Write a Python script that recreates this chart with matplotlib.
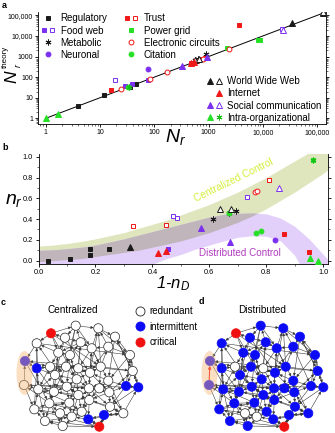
import numpy as np
import matplotlib
matplotlib.use('agg')
import matplotlib.pyplot as plt
from matplotlib.legend_handler import HandlerTuple
from matplotlib.lines import Line2D
from matplotlib.patches import Ellipse, FancyArrowPatch
from matplotlib.ticker import FixedLocator, FixedFormatter, LogLocator, MultipleLocator, NullFormatter

plt.rcParams['font.family'] = ['Liberation Sans', 'DejaVu Sans']
plt.rcParams['mathtext.fontset'] = 'custom'
plt.rcParams['mathtext.rm'] = 'Liberation Sans'
plt.rcParams['mathtext.it'] = 'Liberation Sans:italic'
plt.rcParams['axes.linewidth'] = 0.6


""" ############### data, panel a ############### """

line_a = [1, 140000]
ticks_a = [1, 10, 100, 1000, 10000, 100000]
ticklabels_a = ['1', '10', '100', '1000', '10,000', '100,000']

reg_a_x = [4, 12, 35, 46]
reg_a_y = [4, 13, 33, 48]
foodf_a_x = [29, 38, 75]
foodf_a_y = [38, 44, 72]
foodo_a_x = [19, 22000]
foodo_a_y = [70, 21000]
metab_a_x = [560, 650, 900]
metab_a_y = [700, 800, 1300]
neur_a_x = [78]
neur_a_y = [260]
trustf_a_x = [16, 480, 750, 3600]
trustf_a_y = [24, 490, 800, 35000]
trusto_a_x = [600, 850]
trusto_a_y = [640, 850]
power_a_x = [2200, 8000, 9000]
power_a_y = [2600, 6200, 6200]
elec_a_x = [24, 82, 170, 780, 2400]
elec_a_y = [26, 85, 170, 790, 2400]
cit_a_x = [33]
cit_a_y = [32]
wwwf_a_x = [35000, 125000]
wwwf_a_y = [42000, 135000]
wwwo_a_x = [570, 660, 130000]
wwwo_a_y = [650, 720, 140000]
inet_a_x = [470, 540]
inet_a_y = [470, 520]
socf_a_x = [330, 950]
socf_a_y = [340, 930]
soco_a_x = [23000]
soco_a_y = [20500]
intra_a_x = [1, 1.7]
intra_a_y = [1, 1.7]
intras_a_x = [34]
intras_a_y = [33]

""" ############### data, panel b ############### """

reg_b_x = [0.035, 0.109, 0.18, 0.18, 0.249]
reg_b_y = [0.0, 0.013, 0.112, 0.05, 0.112]
wwwf_b_x = [0.32]
wwwf_b_y = [0.128]
wwwo_b_x = [0.639, 0.676]
wwwo_b_y = [0.494, 0.494]
inet_b_x = [0.42, 0.447]
inet_b_y = [0.077, 0.096]
foodf_b_x = [0.456]
foodf_b_y = [0.112]
foodo_b_x = [0.474, 0.486, 0.732]
foodo_b_y = [0.433, 0.413, 0.609]
trusto_b_x = [0.333, 0.449, 0.808]
trusto_b_y = [0.333, 0.343, 0.776]
trustf_b_x = [0.861, 0.949]
trustf_b_y = [0.253, 0.087]
socf_b_x = [0.571, 0.672]
socf_b_y = [0.317, 0.183]
soco_b_x = [0.844]
soco_b_y = [0.696]
metab_b_x = [0.613, 0.668, 0.694]
metab_b_y = [0.404, 0.462, 0.478]
elec_b_x = [0.761, 0.768]
elec_b_y = [0.663, 0.673]
cit_b_x = [0.668, 0.765, 0.78]
cit_b_y = [0.462, 0.263, 0.288]
neur_b_x = [0.832]
neur_b_y = [0.199]
intra_b_x = [0.953, 0.982]
intra_b_y = [0.029, 0.0]
power_b_x = [0.965]
power_b_y = [0.968]
intras_b_x = [0.965]
intras_b_y = [0.968]

band_x = [0, 0.05, 0.1, 0.15, 0.2, 0.25, 0.3, 0.35, 0.4, 0.45, 0.5,
          0.55, 0.6, 0.65, 0.7, 0.75, 0.8, 0.85, 0.9, 0.95, 1.0, 1.02]
central_lo = [-0.01, 0.0, 0.01, 0.02, 0.04, 0.06, 0.08, 0.10, 0.13, 0.16, 0.19,
              0.23, 0.27, 0.32, 0.37, 0.43, 0.50, 0.58, 0.66, 0.75, 0.84, 0.88]
central_hi = [0.14, 0.15, 0.165, 0.185, 0.21, 0.24, 0.27, 0.31, 0.35, 0.39, 0.44,
              0.49, 0.54, 0.60, 0.66, 0.73, 0.80, 0.88, 0.96, 1.04, 1.12, 1.16]
distrib_lo = [-0.20, -0.19, -0.18, -0.17, -0.15, -0.13, -0.10, -0.07, -0.035, 0.02, 0.06,
              0.11, 0.15, 0.19, 0.225, 0.24, 0.235, 0.19, 0.05, -0.2, -0.3, -0.3]
distrib_hi = [0.10, 0.105, 0.115, 0.13, 0.15, 0.18, 0.21, 0.245, 0.28, 0.315, 0.35,
              0.385, 0.42, 0.445, 0.455, 0.46, 0.45, 0.41, 0.33, 0.21, 0.06, 0.0]

""" ############### data, panels c and d (same network) ############### """

node_x = [75.7, 98.3, 51, 115, 65, 80.7, 36.7, 108.3, 91.7, 58.3,
          70, 130, 25, 36.7, 66, 100.7, 55, 90, 76.7, 108.3,
          132.7, 24, 38.3, 66.7, 89, 99.3, 126, 138.3, 54, 109.3,
          78.3, 49.3, 69.3, 89.3, 110, 34.3, 81.7, 123.3, 60, 71.7,
          104, 45, 88.3, 62.7, 99.3, 50, 78.3]
node_y = [325.7, 328.3, 333.3, 336.7, 337.7, 342.3, 343.3, 346.7, 348.3, 352.7,
          355, 355, 361, 368.3, 366.7, 366.7, 375, 372.7, 379.3, 380.7,
          371, 385, 389.3, 386.7, 388.3, 388.3, 386, 387.3, 391.7, 392.3,
          395, 403.3, 402.7, 400, 406.7, 409.3, 411.7, 413.3, 413.3, 416.7,
          415, 421, 419.3, 426, 426.7, 366.7, 368.3]
state_c = list('wwr' 'wwwwwwwww' 'bb' 'wwwwwwwwwwww' 'bb' 'wwwwwwwwwwww'
               'bwbwr' 'ww')
state_d = list('bbr' 'bbbbbbbbbbbbbbbbbbbbbbbbbbbbbbbbbbb' 'ww' 'bbbb' 'r'
               'ww')
highlighted = [12, 21]
red_edge = (21, 12)
edges = [
    (2, 0), (2, 6), (4, 2), (0, 1), (5, 0), (1, 3), (8, 1), (3, 7), (11, 3),
    (4, 9), (4, 5), (5, 8), (10, 5), (9, 6), (6, 12), (13, 6), (7, 8),
    (15, 7), (7, 11), (17, 8), (9, 10), (16, 9), (10, 14), (18, 10),
    (20, 11), (11, 19), (21, 12), (12, 13), (22, 13), (13, 16), (14, 16),
    (15, 14), (14, 17), (17, 15), (15, 20), (18, 16), (17, 18), (19, 17),
    (23, 18), (18, 24), (25, 19), (19, 29), (27, 20), (20, 26), (21, 22),
    (31, 21), (22, 28), (23, 22), (23, 24), (30, 23), (24, 25), (33, 24),
    (25, 29), (26, 27), (29, 26), (37, 27), (28, 31), (30, 28), (29, 34),
    (32, 30), (30, 33), (35, 31), (31, 32), (38, 32), (32, 36), (34, 33),
    (33, 36), (37, 34), (34, 40), (41, 35), (35, 38), (36, 39), (42, 36),
    (40, 37), (39, 38), (38, 43), (42, 39), (44, 40), (43, 41), (44, 42),
    (43, 44), (45, 14), (9, 45), (46, 5), (17, 46), (14, 46), (12, 45),
    (2, 18), (23, 6), (0, 10), (15, 1), (3, 19), (26, 11), (13, 28),
    (16, 30), (4, 17), (24, 8), (10, 23), (15, 25), (19, 26), (21, 24),
    (32, 22), (28, 33), (36, 31), (35, 32), (41, 39), (9, 28), (18, 5),
    (7, 17), (29, 20), (12, 31), (21, 35), (33, 23), (24, 34), (27, 34),
    (42, 37), (40, 42), (37, 29), (25, 30), (0, 4), (7, 1), (20, 3),
    (45, 16), (8, 46), (13, 45), (22, 16), (35, 22), (6, 11), (20, 12),
    (27, 21), (2, 15), (44, 35), (44, 41), (1, 11), (0, 8), (14, 18),
    (16, 23), (17, 24), (18, 30), (23, 28), (24, 29), (30, 36), (33, 37),
    (31, 38), (32, 39), (36, 43), (29, 33), (19, 24), (10, 16), (5, 9),
    (8, 15), (2, 9), (6, 22), (11, 27), (3, 20), (1, 17), (0, 14),
    (46, 24), (45, 22), (16, 31), (28, 41), (30, 39), (33, 42), (34, 44),
    (37, 40), (26, 34), (25, 33), (19, 37), (17, 29), (18, 32), (14, 28),
    (8, 19), (7, 26), (4, 16), (13, 35), (22, 41), (31, 43), (36, 44),
    (32, 42), (24, 36), (23, 32),
]


BLACK = '#1a1a1a'
PURPLE = '#7b2ff0'
RED = '#f01818'
GREEN = '#25e025'
NODE_COLORS = {'w': 'white', 'b': '#0b0bf5', 'r': '#f01010'}
ASTERISK = (6, 2, 0)

fig = plt.figure(figsize=(3.35, 4.33), dpi=100)


def px(x, y):
    """ figure pixel (from top-left) to figure fraction """
    return x / 335, 1 - y / 433


""" ############### panel a ############### """

ax_a = fig.add_axes([38 / 335, 1 - 124 / 433, 288 / 335, 112.3 / 433])
ax_a.set_xscale('log')
ax_a.set_yscale('log')
ax_a.plot(line_a, line_a, color='k', lw=0.7, zorder=1)


def mk(ax, x, y, marker, color, filled=True, ms=3.2):
    return ax.plot(
        x, y, ls='none', marker=marker, ms=ms,
        mfc=color if filled else 'white', mec=color, mew=0.7, zorder=3)[0]


def draw_markers(ax, d):
    h = {}
    h['reg'] = mk(ax, d['reg'][0], d['reg'][1], 's', BLACK)
    h['foodf'] = mk(ax, d['foodf'][0], d['foodf'][1], 's', PURPLE)
    h['foodo'] = mk(ax, d['foodo'][0], d['foodo'][1], 's', PURPLE, False)
    h['metab'] = mk(ax, d['metab'][0], d['metab'][1], ASTERISK, BLACK, True, 4.2)
    h['neur'] = mk(ax, d['neur'][0], d['neur'][1], 'o', PURPLE, True, 3.5)
    h['trustf'] = mk(ax, d['trustf'][0], d['trustf'][1], 's', RED)
    h['trusto'] = mk(ax, d['trusto'][0], d['trusto'][1], 's', RED, False)
    h['power'] = mk(ax, d['power'][0], d['power'][1], 's', GREEN)
    h['elec'] = mk(ax, d['elec'][0], d['elec'][1], 'o', RED, False, 3.5)
    h['cit'] = mk(ax, d['cit'][0], d['cit'][1], 'o', GREEN, True, 3.5)
    h['wwwf'] = mk(ax, d['wwwf'][0], d['wwwf'][1], '^', BLACK, True, 3.8)
    h['wwwo'] = mk(ax, d['wwwo'][0], d['wwwo'][1], '^', BLACK, False, 3.8)
    h['inet'] = mk(ax, d['inet'][0], d['inet'][1], '^', RED, True, 3.8)
    h['socf'] = mk(ax, d['socf'][0], d['socf'][1], '^', PURPLE, True, 3.8)
    h['soco'] = mk(ax, d['soco'][0], d['soco'][1], '^', PURPLE, False, 3.8)
    h['intra'] = mk(ax, d['intra'][0], d['intra'][1], '^', GREEN, True, 3.8)
    h['intras'] = mk(ax, d['intras'][0], d['intras'][1], ASTERISK, '#18c018', True, 4.2)
    return h


data_a = {
    'reg': (reg_a_x, reg_a_y), 'foodf': (foodf_a_x, foodf_a_y),
    'foodo': (foodo_a_x, foodo_a_y), 'metab': (metab_a_x, metab_a_y),
    'neur': (neur_a_x, neur_a_y), 'trustf': (trustf_a_x, trustf_a_y),
    'trusto': (trusto_a_x, trusto_a_y), 'power': (power_a_x, power_a_y),
    'elec': (elec_a_x, elec_a_y), 'cit': (cit_a_x, cit_a_y),
    'wwwf': (wwwf_a_x, wwwf_a_y), 'wwwo': (wwwo_a_x, wwwo_a_y),
    'inet': (inet_a_x, inet_a_y), 'socf': (socf_a_x, socf_a_y),
    'soco': (soco_a_x, soco_a_y), 'intra': (intra_a_x, intra_a_y),
    'intras': (intras_a_x, intras_a_y),
}
h = draw_markers(ax_a, data_a)

ax_a.set_xlim(0.72, 145000)
ax_a.set_ylim(0.53, 150000)
for axis in (ax_a.xaxis, ax_a.yaxis):
    axis.set_major_locator(FixedLocator(ticks_a))
    axis.set_major_formatter(FixedFormatter(ticklabels_a))
    axis.set_minor_locator(LogLocator(base=10, subs=range(2, 10)))
    axis.set_minor_formatter(NullFormatter())
ax_a.tick_params(which='major', labelsize=5.0, length=2.5, width=0.6, pad=1.2,
                 right=True, direction='out')
ax_a.tick_params(which='minor', length=1.3, width=0.4, right=True)
ax_a.spines['top'].set_visible(False)

ax_a.set_xlabel(r'$N_r$', fontsize=14)
ax_a.xaxis.set_label_coords(0.479, -0.03)

# y label of panel a, built from its three parts so it fits beside the ticks
fig.text(*px(12.3, 77), 'N', fontsize=12.5, style='italic', rotation=90,
         ha='center', va='center')
fig.text(*px(5.8, 57), 'theory', fontsize=5.8, rotation=90,
         ha='center', va='center')
fig.text(*px(18.5, 65.5), 'r', fontsize=6.5, style='italic', rotation=90,
         ha='center', va='center')

blank = Line2D([], [], ls='none')
leg1 = ax_a.legend(
    [h['reg'], (h['foodf'], h['foodo']), h['metab'], h['neur'],
     (h['trustf'], h['trusto']), h['power'], h['elec'], h['cit']],
    ['Regulatory', 'Food web', 'Metabolic', 'Neuronal',
     'Trust', 'Power grid', 'Electronic circuits', 'Citation'],
    ncol=2, loc='upper left', bbox_to_anchor=(0.008, 0.985),
    frameon=False, fontsize=7, handlelength=1.6, handletextpad=0.5,
    columnspacing=1.6, labelspacing=0.22, borderpad=0, borderaxespad=0,
    handler_map={tuple: HandlerTuple(ndivide=None, pad=0.2)})
ax_a.add_artist(leg1)
ax_a.legend(
    [(h['wwwf'], h['wwwo']), (blank, h['inet']), (h['socf'], h['soco']),
     (h['intra'], h['intras'])],
    ['World Wide Web', 'Internet', 'Social communication',
     'Intra-organizational'],
    loc='upper left', bbox_to_anchor=(0.587, 0.425),
    frameon=False, fontsize=7, handlelength=1.6, handletextpad=0.5,
    labelspacing=0.22, borderpad=0, borderaxespad=0,
    handler_map={tuple: HandlerTuple(ndivide=None, pad=0.2)})


""" ############### panel b ############### """

ax_b = fig.add_axes([38.5 / 335, 1 - 263.8 / 433, 289 / 335, 110.2 / 433])
bx = np.asarray(band_x)
clo, chi = np.asarray(central_lo), np.asarray(central_hi)
dlo, dhi = np.asarray(distrib_lo), np.asarray(distrib_hi)
ax_b.fill_between(bx, clo, chi, color='#dfe6be', lw=0, zorder=0)
ax_b.fill_between(bx, dlo, dhi, color='#e3d0fa', lw=0, zorder=0)
olo, ohi = np.maximum(clo, dlo), np.minimum(chi, dhi)
ax_b.fill_between(bx, olo, ohi, where=ohi > olo, color='#bfb5bb', lw=0,
                  zorder=0, interpolate=True)

data_b = {
    'reg': (reg_b_x, reg_b_y), 'foodf': (foodf_b_x, foodf_b_y),
    'foodo': (foodo_b_x, foodo_b_y), 'metab': (metab_b_x, metab_b_y),
    'neur': (neur_b_x, neur_b_y), 'trustf': (trustf_b_x, trustf_b_y),
    'trusto': (trusto_b_x, trusto_b_y), 'power': (power_b_x, power_b_y),
    'elec': (elec_b_x, elec_b_y), 'cit': (cit_b_x, cit_b_y),
    'wwwf': (wwwf_b_x, wwwf_b_y), 'wwwo': (wwwo_b_x, wwwo_b_y),
    'inet': (inet_b_x, inet_b_y), 'socf': (socf_b_x, socf_b_y),
    'soco': (soco_b_x, soco_b_y), 'intra': (intra_b_x, intra_b_y),
    'intras': (intras_b_x, intras_b_y),
}
draw_markers(ax_b, data_b)

ax_b.text(0.687, 0.776, 'Centralized Control', color='#d4ee3a', fontsize=7.3,
          rotation=26, ha='center', va='center', rotation_mode='anchor')
ax_b.text(0.706, 0.071, 'Distributed Control', color='#b23cc0', fontsize=7.1,
          ha='center', va='center')

ax_b.set_xlim(0, 1.015)
ax_b.set_ylim(-0.03, 1.03)
ax_b.xaxis.set_major_locator(MultipleLocator(0.2))
ax_b.xaxis.set_minor_locator(MultipleLocator(0.1))
ax_b.yaxis.set_major_locator(FixedLocator([0, 0.2, 0.4, 0.6, 0.8, 1.0]))
ax_b.yaxis.set_minor_locator(FixedLocator([0.1, 0.3, 0.5, 0.7, 0.9]))
ax_b.xaxis.set_major_formatter(plt.FormatStrFormatter('%.1f'))
ax_b.yaxis.set_major_formatter(plt.FormatStrFormatter('%.1f'))
ax_b.tick_params(which='major', labelsize=5.3, length=2.5, width=0.6, pad=1.5,
                 right=True)
ax_b.tick_params(which='minor', length=1.3, width=0.4, right=True)
ax_b.spines['top'].set_visible(False)
ax_b.set_xlabel('1-$n_D$', fontsize=12, style='italic')
ax_b.xaxis.set_label_coords(0.465, -0.095)
ax_b.set_ylabel('$n_r$', fontsize=14, rotation=0)
ax_b.yaxis.set_label_coords(-0.085, 0.5)


""" ############### panels c and d ############### """

ax_n = fig.add_axes([0, 0, 1, 143 / 433])
ax_n.set_xlim(0, 335)
ax_n.set_ylim(433, 290)
ax_n.axis('off')

shift_d = 185
nx = np.asarray(node_x)
ny = np.asarray(node_y)
for offset, states, red in ((0, state_c, False), (shift_d, state_d, True)):
    for i, j in edges:
        col = '#3a3a3a'
        lw = 0.4
        if red and (i, j) == red_edge:
            col, lw = '#f01010', 0.8
        ax_n.add_patch(FancyArrowPatch(
            (nx[i] + offset, ny[i]), (nx[j] + offset, ny[j]),
            arrowstyle='-|>', mutation_scale=4, shrinkA=3.4, shrinkB=3.4,
            color=col, lw=lw, zorder=1))
    cols = [NODE_COLORS[s] for s in states]
    ecs = ['#222222' if s == 'w' else NODE_COLORS[s] for s in states]
    ax_n.scatter(nx + offset, ny, s=44, c=cols, edgecolors=ecs,
                 linewidths=0.5, zorder=3)
    hx = nx[highlighted].mean() + offset
    hy = ny[highlighted].mean()
    ax_n.add_patch(Ellipse((hx, hy), 16, 44, color='#f5b87a', alpha=0.45,
                           lw=0, zorder=4))

ax_n.text(72.5, 310, 'Centralized', fontsize=7.2, ha='center', va='center')
ax_n.text(262.5, 310, 'Distributed', fontsize=7.2, ha='center', va='center')

key = [Line2D([], [], ls='none', marker='o', ms=6.5, mfc=NODE_COLORS[s],
              mec='#222222' if s == 'w' else NODE_COLORS[s], mew=0.6)
       for s in ('w', 'b', 'r')]
fig.legend(key, ['redundant', 'intermittent', 'critical'],
           loc='upper left', bbox_to_anchor=px(135, 306.5),
           frameon=False, fontsize=7, handlelength=1.0, handletextpad=0.5,
           labelspacing=0.55, borderpad=0, borderaxespad=0)

for lab, lx, ly in (('a', 2, 1), ('b', 2, 143), ('c', 1, 298), ('d', 199, 297)):
    fig.text(*px(lx, ly), lab, fontsize=6.5, fontweight='bold',
             ha='left', va='top')

fig.savefig('out.png', dpi=100)
